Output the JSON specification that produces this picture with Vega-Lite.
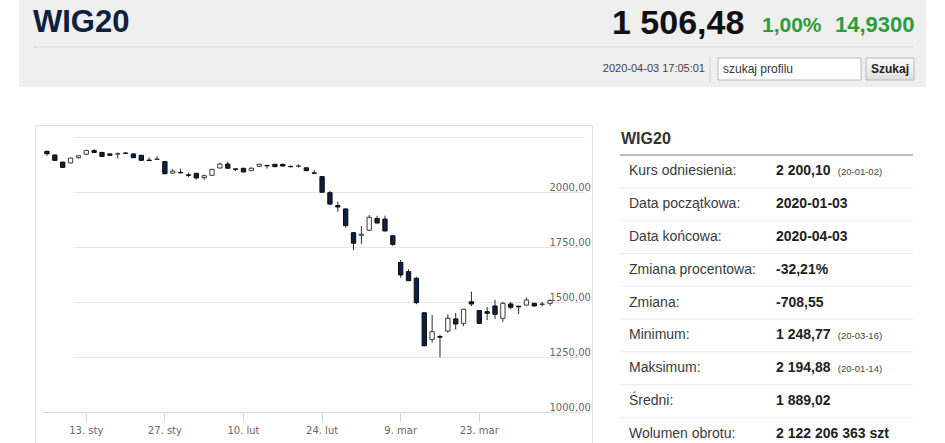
{
  "$schema": "https://vega.github.io/schema/vega-lite/v6.json",
  "description": "WIG20 daily candles 2020-01-03 to 2020-04-03 with a summary table, styled like the quote page.",
  "background": "#ffffff",
  "padding": {"left": 19, "top": 0, "right": 0, "bottom": 0},
  "config": {"view": {"stroke": null}, "font": "DejaVu Sans"},
  "datasets": {
    "hdr": [
      {"k": "name", "t": "WIG20"},
      {"k": "price", "t": "1 506,48"},
      {"k": "pct", "t": "1,00%"},
      {"k": "chg", "t": "14,9300"},
      {"k": "time", "t": "2020-04-03 17:05:01"},
      {"k": "query", "t": "szukaj profilu"},
      {"k": "btn", "t": "Szukaj"}
    ],
    "tbl": [
      {"r": "t", "label": "WIG20"},
      {"r": "0", "label": "Kurs odniesienia:", "value": "2 200,10", "date": "(20-01-02)"},
      {"r": "1", "label": "Data początkowa:", "value": "2020-01-03"},
      {"r": "2", "label": "Data końcowa:", "value": "2020-04-03"},
      {"r": "3", "label": "Zmiana procentowa:", "value": "-32,21%"},
      {"r": "4", "label": "Zmiana:", "value": "-708,55"},
      {"r": "5", "label": "Minimum:", "value": "1 248,77", "date": "(20-03-16)"},
      {"r": "6", "label": "Maksimum:", "value": "2 194,88", "date": "(20-01-14)"},
      {"r": "7", "label": "Średni:", "value": "1 889,02"},
      {"r": "8", "label": "Wolumen obrotu:", "value": "2 122 206 363 szt"}
    ],
    "ohlc": [
      {"d": "2020-01-03", "o": 2185, "h": 2187, "l": 2165, "c": 2174},
      {"d": "2020-01-07", "o": 2168, "h": 2171, "l": 2142, "c": 2144},
      {"d": "2020-01-08", "o": 2136, "h": 2138, "l": 2110, "c": 2112},
      {"d": "2020-01-09", "o": 2132, "h": 2156, "l": 2130, "c": 2154},
      {"d": "2020-01-10", "o": 2156, "h": 2168, "l": 2152, "c": 2165},
      {"d": "2020-01-13", "o": 2172, "h": 2192, "l": 2169, "c": 2189},
      {"d": "2020-01-14", "o": 2188, "h": 2194.88, "l": 2178, "c": 2180},
      {"d": "2020-01-15", "o": 2180, "h": 2182, "l": 2158, "c": 2162},
      {"d": "2020-01-16", "o": 2173, "h": 2175, "l": 2165, "c": 2167},
      {"d": "2020-01-17", "o": 2172, "h": 2180, "l": 2152, "c": 2174},
      {"d": "2020-01-20", "o": 2177, "h": 2180, "l": 2175, "c": 2176},
      {"d": "2020-01-21", "o": 2173, "h": 2174, "l": 2155, "c": 2156},
      {"d": "2020-01-22", "o": 2167, "h": 2168, "l": 2143, "c": 2144},
      {"d": "2020-01-23", "o": 2145, "h": 2157, "l": 2142, "c": 2143},
      {"d": "2020-01-24", "o": 2148, "h": 2162, "l": 2147, "c": 2150},
      {"d": "2020-01-27", "o": 2138, "h": 2140, "l": 2081, "c": 2083},
      {"d": "2020-01-28", "o": 2086, "h": 2104, "l": 2085, "c": 2095},
      {"d": "2020-01-29", "o": 2089, "h": 2106, "l": 2085, "c": 2087},
      {"d": "2020-01-30", "o": 2078, "h": 2088, "l": 2067, "c": 2076},
      {"d": "2020-01-31", "o": 2085, "h": 2086, "l": 2056, "c": 2064},
      {"d": "2020-02-03", "o": 2065, "h": 2079, "l": 2056, "c": 2074},
      {"d": "2020-02-04", "o": 2076, "h": 2105, "l": 2075, "c": 2103},
      {"d": "2020-02-05", "o": 2109, "h": 2133, "l": 2108, "c": 2127},
      {"d": "2020-02-06", "o": 2127, "h": 2138, "l": 2107, "c": 2108},
      {"d": "2020-02-07", "o": 2105, "h": 2106, "l": 2095, "c": 2103},
      {"d": "2020-02-10", "o": 2108, "h": 2109, "l": 2090, "c": 2091},
      {"d": "2020-02-11", "o": 2097, "h": 2112, "l": 2096, "c": 2108},
      {"d": "2020-02-12", "o": 2117, "h": 2128, "l": 2116, "c": 2126},
      {"d": "2020-02-13", "o": 2121, "h": 2122, "l": 2106, "c": 2119},
      {"d": "2020-02-14", "o": 2126, "h": 2127, "l": 2114, "c": 2115},
      {"d": "2020-02-17", "o": 2125, "h": 2130, "l": 2117, "c": 2118},
      {"d": "2020-02-18", "o": 2116, "h": 2121, "l": 2112, "c": 2115},
      {"d": "2020-02-19", "o": 2117, "h": 2126, "l": 2112, "c": 2118},
      {"d": "2020-02-20", "o": 2110, "h": 2111, "l": 2096, "c": 2097},
      {"d": "2020-02-21", "o": 2087, "h": 2100, "l": 2084, "c": 2085},
      {"d": "2020-02-24", "o": 2070, "h": 2071, "l": 1997, "c": 1999},
      {"d": "2020-02-25", "o": 1997, "h": 2006, "l": 1943, "c": 1945},
      {"d": "2020-02-26", "o": 1938, "h": 1956, "l": 1910, "c": 1932},
      {"d": "2020-02-27", "o": 1923, "h": 1925, "l": 1838, "c": 1847},
      {"d": "2020-02-28", "o": 1815, "h": 1818, "l": 1736, "c": 1767},
      {"d": "2020-03-02", "o": 1803, "h": 1845, "l": 1764, "c": 1808},
      {"d": "2020-03-03", "o": 1826, "h": 1895, "l": 1824, "c": 1885},
      {"d": "2020-03-04", "o": 1880, "h": 1892, "l": 1857, "c": 1859},
      {"d": "2020-03-05", "o": 1877, "h": 1892, "l": 1821, "c": 1823},
      {"d": "2020-03-06", "o": 1801, "h": 1803, "l": 1755, "c": 1762},
      {"d": "2020-03-09", "o": 1680, "h": 1691, "l": 1610, "c": 1623},
      {"d": "2020-03-10", "o": 1638, "h": 1649, "l": 1595, "c": 1597},
      {"d": "2020-03-11", "o": 1608, "h": 1615, "l": 1490, "c": 1497},
      {"d": "2020-03-12", "o": 1451, "h": 1452, "l": 1299, "c": 1301},
      {"d": "2020-03-13", "o": 1330, "h": 1441, "l": 1315, "c": 1365},
      {"d": "2020-03-16", "o": 1343, "h": 1352, "l": 1248.77, "c": 1340},
      {"d": "2020-03-17", "o": 1368, "h": 1444, "l": 1360, "c": 1426},
      {"d": "2020-03-18", "o": 1423, "h": 1450, "l": 1374, "c": 1400},
      {"d": "2020-03-19", "o": 1403, "h": 1468, "l": 1390, "c": 1467},
      {"d": "2020-03-20", "o": 1501, "h": 1547, "l": 1482, "c": 1491},
      {"d": "2020-03-23", "o": 1461, "h": 1462, "l": 1401, "c": 1403},
      {"d": "2020-03-24", "o": 1456, "h": 1477, "l": 1418, "c": 1449},
      {"d": "2020-03-25", "o": 1482, "h": 1510, "l": 1423, "c": 1444},
      {"d": "2020-03-26", "o": 1426, "h": 1501, "l": 1410, "c": 1494},
      {"d": "2020-03-27", "o": 1491, "h": 1500, "l": 1467, "c": 1476},
      {"d": "2020-03-30", "o": 1481, "h": 1482, "l": 1445, "c": 1478},
      {"d": "2020-03-31", "o": 1486, "h": 1521, "l": 1484, "c": 1509},
      {"d": "2020-04-01", "o": 1494, "h": 1496, "l": 1480, "c": 1482},
      {"d": "2020-04-02", "o": 1489, "h": 1500, "l": 1480, "c": 1491},
      {"d": "2020-04-03", "o": 1494, "h": 1512, "l": 1483, "c": 1506.48}
    ]
  },
  "vconcat": [
    {
      "width": 907,
      "height": 87,
      "view": {"fill": "#efefef", "stroke": null},
      "data": {"name": "hdr"},
      "layer": [
        {
          "transform": [{"filter": "datum.k === 'query'"}],
          "mark": {"type": "rect", "fill": "#ffffff", "stroke": "#b8b8b8", "strokeWidth": 1},
          "encoding": {
            "x": {"datum": 699, "type": "quantitative", "scale": {"domain": [0, 907], "nice": false, "zero": false}, "axis": null},
            "x2": {"datum": 842},
            "y": {"datum": 58, "type": "quantitative", "scale": {"domain": [0, 87], "nice": false, "zero": false, "reverse": true}, "axis": null},
            "y2": {"datum": 80}
          }
        },
        {
          "transform": [{"filter": "datum.k === 'btn'"}],
          "mark": {
            "type": "rect",
            "stroke": "#bcbcbc",
            "strokeWidth": 1,
            "fill": {"gradient": "linear", "x1": 0, "y1": 0, "x2": 0, "y2": 1, "stops": [{"offset": 0, "color": "#fbfbfb"}, {"offset": 1, "color": "#dedede"}]}
          },
          "encoding": {
            "x": {"datum": 847, "type": "quantitative"},
            "x2": {"datum": 895},
            "y": {"datum": 58, "type": "quantitative"},
            "y2": {"datum": 80}
          }
        },
        {
          "transform": [{"filter": "datum.k === 'name'"}],
          "mark": {"type": "rule", "stroke": "#d8d8d8", "strokeWidth": 1},
          "encoding": {
            "x": {"datum": 14, "type": "quantitative"},
            "x2": {"datum": 894},
            "y": {"datum": 47, "type": "quantitative"}
          }
        },
        {
          "transform": [{"filter": "datum.k === 'time'"}],
          "mark": {"type": "rule", "stroke": "#d0d0d0", "strokeWidth": 1},
          "encoding": {
            "x": {"datum": 691, "type": "quantitative"},
            "y": {"datum": 57, "type": "quantitative"},
            "y2": {"datum": 82}
          }
        },
        {
          "transform": [{"filter": "datum.k === 'name'"}],
          "mark": {"type": "text", "align": "left", "baseline": "alphabetic", "font": "Liberation Sans", "fontSize": 31, "fontWeight": "bold", "fill": "#0c2140"},
          "encoding": {
            "x": {"datum": 14, "type": "quantitative"},
            "y": {"datum": 32, "type": "quantitative"},
            "text": {"field": "t"}
          }
        },
        {
          "transform": [{"filter": "datum.k === 'price'"}],
          "mark": {"type": "text", "align": "left", "baseline": "alphabetic", "font": "Liberation Sans", "fontSize": 34, "fontWeight": "bold", "fill": "#111111"},
          "encoding": {
            "x": {"datum": 593, "type": "quantitative"},
            "y": {"datum": 34, "type": "quantitative"},
            "text": {"field": "t"}
          }
        },
        {
          "transform": [{"filter": "datum.k === 'pct'"}],
          "mark": {"type": "text", "align": "left", "baseline": "alphabetic", "font": "Liberation Sans", "fontSize": 21, "fontWeight": "bold", "fill": "#2a9d3c"},
          "encoding": {
            "x": {"datum": 743, "type": "quantitative"},
            "y": {"datum": 32, "type": "quantitative"},
            "text": {"field": "t"}
          }
        },
        {
          "transform": [{"filter": "datum.k === 'chg'"}],
          "mark": {"type": "text", "align": "left", "baseline": "alphabetic", "font": "Liberation Sans", "fontSize": 22, "fontWeight": "bold", "fill": "#2a9d3c"},
          "encoding": {
            "x": {"datum": 816, "type": "quantitative"},
            "y": {"datum": 32, "type": "quantitative"},
            "text": {"field": "t"}
          }
        },
        {
          "transform": [{"filter": "datum.k === 'time'"}],
          "mark": {"type": "text", "align": "right", "baseline": "middle", "font": "Liberation Sans", "fontSize": 11, "fill": "#444444"},
          "encoding": {
            "x": {"datum": 686, "type": "quantitative"},
            "y": {"datum": 69, "type": "quantitative"},
            "text": {"field": "t"}
          }
        },
        {
          "transform": [{"filter": "datum.k === 'query'"}],
          "mark": {"type": "text", "align": "left", "baseline": "middle", "font": "Liberation Sans", "fontSize": 12, "fill": "#333333"},
          "encoding": {
            "x": {"datum": 704, "type": "quantitative"},
            "y": {"datum": 69, "type": "quantitative"},
            "text": {"field": "t"}
          }
        },
        {
          "transform": [{"filter": "datum.k === 'btn'"}],
          "mark": {"type": "text", "align": "center", "baseline": "middle", "font": "Liberation Sans", "fontSize": 12, "fontWeight": "bold", "fill": "#222222"},
          "encoding": {
            "x": {"datum": 871, "type": "quantitative"},
            "y": {"datum": 69, "type": "quantitative"},
            "text": {"field": "t"}
          }
        }
      ]
    },
    {
      "spacing": 0,
      "bounds": "flush",
      "hconcat": [
        {
          "width": 16,
          "height": 1,
          "view": {"fill": "#ffffff", "stroke": null},
          "data": {"values": []},
          "mark": "point"
        },
        {
          "spacing": 28,
          "bounds": "flush",
          "hconcat": [
            {
              "width": 557,
              "height": 330,
              "view": {"stroke": "#e2e2e2"},
              "data": {"name": "ohlc"},
              "encoding": {
                "x": {
                  "field": "d",
                  "type": "ordinal",
                  "scale": {"type": "band", "range": [8, 519], "paddingInner": 0.45, "paddingOuter": 0.23},
                  "axis": {
                    "title": null,
                    "orient": "bottom",
                    "offset": -43,
                    "values": ["2020-01-13", "2020-01-27", "2020-02-10", "2020-02-24", "2020-03-09", "2020-03-23"],
                    "labelExpr": "toNumber(slice(datum.value, 8)) + '. ' + (slice(datum.value, 5, 7) == '01' ? 'sty' : slice(datum.value, 5, 7) == '02' ? 'lut' : 'mar')",
                    "bandPosition": 0.5,
                    "labelAngle": 0,
                    "domainColor": "#ccd6eb",
                    "tickColor": "#ccd6eb",
                    "tickSize": 10,
                    "labelColor": "#666666",
                    "labelFont": "DejaVu Sans",
                    "labelFontSize": 10,
                    "labelPadding": 3,
                    "grid": false
                  }
                },
                "y": {
                  "type": "quantitative",
                  "scale": {"domain": [1000, 2250], "range": [287, 12], "nice": false, "zero": false},
                  "axis": {
                    "title": null,
                    "orient": "right",
                    "values": [1000, 1250, 1500, 1750, 2000, 2250],
                    "labelExpr": "datum.value > 2200 ? '' : replace(format(datum.value, '.2f'), '.', ',')",
                    "grid": true,
                    "gridColor": "#e6e6e6",
                    "gridWidth": 1,
                    "domain": false,
                    "ticks": false,
                    "tickSize": 0,
                    "labelPadding": -43,
                    "labelAlign": "left",
                    "labelBaseline": "alphabetic",
                    "labelOffset": -2,
                    "labelOverlap": false,
                    "labelColor": "#666666",
                    "labelFont": "DejaVu Sans",
                    "labelFontSize": 10
                  }
                }
              },
              "layer": [
                {
                  "mark": {"type": "rule", "stroke": "#2b2b2b", "strokeWidth": 1},
                  "encoding": {
                    "y": {"field": "l"},
                    "y2": {"field": "h"}
                  }
                },
                {
                  "mark": {"type": "bar", "strokeWidth": 1},
                  "encoding": {
                    "y": {"field": "o"},
                    "y2": {"field": "c"},
                    "fill": {"condition": {"test": "datum.c >= datum.o", "value": "#ffffff"}, "value": "#0c2140"},
                    "stroke": {"condition": {"test": "datum.c >= datum.o", "value": "#3a3a3a"}, "value": "#0a0a0a"}
                  }
                }
              ]
            },
            {
              "width": 293,
              "height": 328,
              "view": {"stroke": null},
              "data": {"name": "tbl"},
              "layer": [
                {
                  "transform": [{"filter": "datum.r !== 't'"}],
                  "mark": {"type": "rule", "strokeWidth": 1},
                  "encoding": {
                    "y": {
                      "field": "r",
                      "type": "ordinal",
                      "bandPosition": 0,
                      "scale": {"type": "band", "domain": ["t", "0", "1", "2", "3", "4", "5", "6", "7", "8"], "range": [-2.8, 325.2], "paddingInner": 0, "paddingOuter": 0},
                      "axis": null
                    },
                    "stroke": {"condition": {"test": "datum.r === '0'", "value": "#767676"}, "value": "#ececec"}
                  }
                },
                {
                  "transform": [{"filter": "datum.r !== 't'"}],
                  "mark": {"type": "text", "align": "left", "baseline": "middle", "font": "Liberation Sans", "fontSize": 14, "fill": "#3a3a3a"},
                  "encoding": {
                    "x": {
                      "datum": "label",
                      "type": "nominal",
                      "bandPosition": 0,
                      "scale": {"type": "band", "domain": ["label", "value"], "range": [9, 303], "paddingInner": 0, "paddingOuter": 0},
                      "axis": null
                    },
                    "y": {"field": "r", "type": "ordinal"},
                    "text": {"field": "label"}
                  }
                },
                {
                  "transform": [{"filter": "datum.r !== 't'"}],
                  "mark": {"type": "text", "align": "left", "baseline": "middle", "font": "Liberation Sans", "fontSize": 14, "fontWeight": "bold", "fill": "#222222"},
                  "encoding": {
                    "x": {"datum": "value", "type": "nominal", "bandPosition": 0},
                    "y": {"field": "r", "type": "ordinal"},
                    "text": {"field": "value"}
                  }
                },
                {
                  "transform": [{"filter": "isValid(datum.date)"}],
                  "mark": {"type": "text", "align": "left", "baseline": "middle", "font": "Liberation Sans", "fontSize": 9.5, "fill": "#444444", "dy": 1},
                  "encoding": {
                    "x": {"datum": "value", "type": "nominal", "bandPosition": 0.42},
                    "y": {"field": "r", "type": "ordinal"},
                    "text": {"field": "date"}
                  }
                },
                {
                  "transform": [{"filter": "datum.r === 't'"}],
                  "mark": {"type": "text", "align": "left", "baseline": "middle", "font": "Liberation Sans", "fontSize": 16, "fontWeight": "bold", "fill": "#333333", "dx": -8},
                  "encoding": {
                    "x": {"datum": "label", "type": "nominal", "bandPosition": 0},
                    "y": {"field": "r", "type": "ordinal"},
                    "text": {"field": "label"}
                  }
                }
              ]
            }
          ]
        }
      ]
    }
  ],
  "spacing": 38,
  "bounds": "flush"
}
